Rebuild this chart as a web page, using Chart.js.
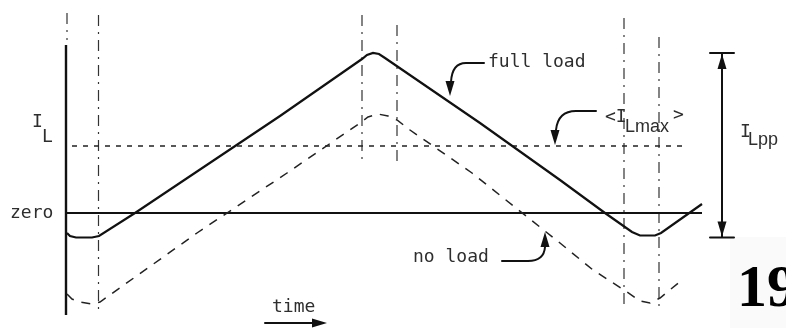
<!DOCTYPE html>
<html>
<head>
<meta charset="utf-8">
<script src="https://cdn.jsdelivr.net/npm/chart.js@4/dist/chart.umd.min.js"></script>
<style>
  html, body { margin: 0; padding: 0; background: #fff; overflow: hidden; }
  #c { display: block; }
</style>
</head>
<body>
<canvas id="c" width="786" height="328"></canvas>
<script>
// Inductor current waveform: time and current in arbitrary units (zero line = 0).
const fullLoadTime    = [0.1, 0.4, 1.0, 2.6, 3.3, 6.9, 21.4, 29.6, 30.1, 30.7, 31.3, 31.9, 41.4, 49.4, 53.9, 56.6, 57.4, 58.9, 59.5, 63.6];
const fullLoadCurrent = [-2.0, -2.3, -2.45, -2.45, -2.3, 0, 9.7, 15.4, 15.8, 16.0, 15.9, 15.5, 9.0, 3.3, 0, -1.9, -2.25, -2.25, -2.0, 0.9];

const noLoadTime    = [0.1, 0.6, 1.4, 2.6, 3.4, 13.1, 22.1, 29.4, 30.2, 31.2, 32.2, 33.1, 34.4, 40.6, 49.4, 52.7, 56.1, 57.4, 58.4, 59.4, 61.6];
const noLoadCurrent = [-8.1, -8.6, -8.9, -9.1, -8.9, -2.0, 4.0, 9.0, 9.6, 9.9, 9.7, 9.3, 8.3, 4.0, -3.0, -5.7, -7.9, -8.8, -9.0, -8.5, -6.7];

// average peak current level <I_Lmax>
const avgMaxCurrent = 6.7;
const avgMaxSpan = [0.6, 61.7];

// switching instants (dash-dot guides) and their vertical extent
const markerTimes  = [0.1, 3.25, 29.6, 33.1, 55.8, 59.3];
const markerTop    = [20.0, 19.8, 19.8, 18.8, 19.5, 17.6];
const markerBottom = [17.3, -9.7, 4.8, 5.0, -9.7, -9.4];

// current axis and zero reference
const axisSpan = [16.8, -10.2];
const zeroSpan = [0, 63.6];

// time at which the peak-to-peak dimension is drawn
const ppTime = 65.6;

const pts = (xs, ys) => xs.map((x, i) => ({ x, y: ys[i] }));

const datasets = [
  { data: pts(fullLoadTime, fullLoadCurrent), borderColor: '#111', borderWidth: 2.2 },
  { data: pts(noLoadTime, noLoadCurrent), borderColor: '#222', borderWidth: 1.5, borderDash: [9, 8] },
  { data: pts(avgMaxSpan, [avgMaxCurrent, avgMaxCurrent]), borderColor: '#222', borderWidth: 1.7, borderDash: [5, 6] },
  { data: pts(zeroSpan, [0, 0]), borderColor: '#111', borderWidth: 2 },
  { data: pts([0, 0], axisSpan), borderColor: '#111', borderWidth: 2.4 },
  ...markerTimes.map((t, i) => ({
    data: pts([t, t], [markerTop[i], markerBottom[i]]),
    borderColor: '#333', borderWidth: 1.2, borderDash: [11, 6, 2, 6]
  }))
];
datasets.forEach(d => { d.pointRadius = 0; d.tension = 0; d.fill = false; d.borderCapStyle = 'butt'; });

function arrowHead(ctx, tx, ty, dx, dy, len, half) {
  const n = Math.hypot(dx, dy); dx /= n; dy /= n;
  const bx = tx - dx * len, by = ty - dy * len;
  ctx.beginPath();
  ctx.moveTo(tx, ty);
  ctx.lineTo(bx - dy * half, by + dx * half);
  ctx.lineTo(bx + dy * half, by - dx * half);
  ctx.closePath();
  ctx.fill();
}

const annotations = {
  id: 'annotations',
  beforeDraw(chart) {
    const { ctx } = chart;
    const X = v => chart.scales.x.getPixelForValue(v);
    const Y = v => chart.scales.y.getPixelForValue(v);
    ctx.save();
    ctx.fillStyle = '#ffffff';
    ctx.fillRect(0, 0, chart.width, chart.height);
    // faint page tint behind the figure number
    ctx.fillStyle = '#fafafa';
    ctx.fillRect(X(66.4), Y(-2.4), chart.width - X(66.4), chart.height - Y(-2.4));
    ctx.restore();
  },
  afterDatasetsDraw(chart) {
    const { ctx } = chart;
    const X = v => chart.scales.x.getPixelForValue(v);
    const Y = v => chart.scales.y.getPixelForValue(v);
    ctx.save();
    ctx.strokeStyle = '#111';
    ctx.fillStyle = '#111';
    ctx.lineWidth = 2;
    ctx.lineCap = 'round';

    // "full load" pointer
    ctx.beginPath();
    ctx.moveTo(X(41.8), Y(15.0));
    ctx.lineTo(X(40.0), Y(15.0));
    ctx.quadraticCurveTo(X(38.6), Y(15.0), X(38.5), Y(13.1));
    ctx.stroke();
    arrowHead(ctx, X(38.4), Y(11.7), 0, 1, 15, 4.5);

    // <I_Lmax> pointer
    ctx.beginPath();
    ctx.moveTo(X(53.0), Y(10.2));
    ctx.lineTo(X(51.0), Y(10.2));
    ctx.quadraticCurveTo(X(49.2), Y(10.2), X(49.0), Y(8.3));
    ctx.stroke();
    arrowHead(ctx, X(48.9), Y(6.8), 0, 1, 15, 4.5);

    // "no load" pointer
    ctx.beginPath();
    ctx.moveTo(X(43.6), Y(-4.8));
    ctx.lineTo(X(46.2), Y(-4.8));
    ctx.quadraticCurveTo(X(47.8), Y(-4.8), X(47.9), Y(-3.4));
    ctx.stroke();
    arrowHead(ctx, X(47.9), Y(-1.9), 0, -1, 15, 4.5);

    // time arrow
    ctx.beginPath();
    ctx.moveTo(X(19.9), Y(-11.0));
    ctx.lineTo(X(25.0), Y(-11.0));
    ctx.stroke();
    arrowHead(ctx, X(26.1), Y(-11.0), 1, 0, 15, 4.5);

    // peak-to-peak dimension from the full-load extremes
    const ppTop = Math.max(...fullLoadCurrent);
    const ppBottom = Math.min(...fullLoadCurrent);
    const px = X(ppTime);
    ctx.lineWidth = 2;
    ctx.beginPath();
    ctx.moveTo(px, Y(ppTop)); ctx.lineTo(px, Y(ppBottom));
    ctx.moveTo(px - 12, Y(ppTop)); ctx.lineTo(px + 12, Y(ppTop));
    ctx.moveTo(px - 12, Y(ppBottom)); ctx.lineTo(px + 12, Y(ppBottom));
    ctx.stroke();
    arrowHead(ctx, px, Y(ppTop) + 1, 0, -1, 15, 4.5);
    arrowHead(ctx, px, Y(ppBottom) - 1, 0, 1, 15, 4.5);

    // text
    const mono = '18px "DejaVu Sans Mono", monospace';
    const sans = '18px "Liberation Sans", sans-serif';
    ctx.fillStyle = '#2e2e2e';
    ctx.textBaseline = 'alphabetic';
    ctx.textAlign = 'left';
    ctx.font = mono;
    ctx.fillText('I', X(-3.4), Y(8.6));
    ctx.fillText('L', X(-2.4), Y(7.1));
    ctx.textBaseline = 'middle';
    ctx.fillText('zero', X(-5.6), Y(0));
    ctx.textBaseline = 'alphabetic';
    ctx.fillText('full load', X(42.2), Y(14.6));
    ctx.fillText('no load', X(34.7), Y(-4.9));
    ctx.fillText('time', X(20.6), Y(-9.9));
    ctx.fillText('<I', X(53.9), Y(9.1));
    ctx.font = sans;
    ctx.fillText('Lmax', X(55.9), Y(8.1));
    ctx.font = mono;
    ctx.fillText('>', X(60.7), Y(9.3));
    ctx.fillText('I', X(67.4), Y(7.6));
    ctx.font = sans;
    ctx.fillText('Lpp', X(68.2), Y(6.8));

    ctx.fillStyle = '#000';
    ctx.font = 'bold 60px "Liberation Serif", serif';
    ctx.fillText('19', X(67.1), Y(-9.3));
    ctx.restore();
  }
};

new Chart(document.getElementById('c'), {
  type: 'line',
  data: { datasets },
  options: {
    responsive: false,
    animation: false,
    events: [],
    layout: { padding: 0 },
    plugins: { legend: { display: false }, tooltip: { enabled: false } },
    scales: {
      x: { type: 'linear', min: -6.6, max: 72, display: false },
      y: { type: 'linear', min: -11.5, max: 21.3, display: false }
    }
  },
  plugins: [annotations]
});
</script>
</body>
</html>
